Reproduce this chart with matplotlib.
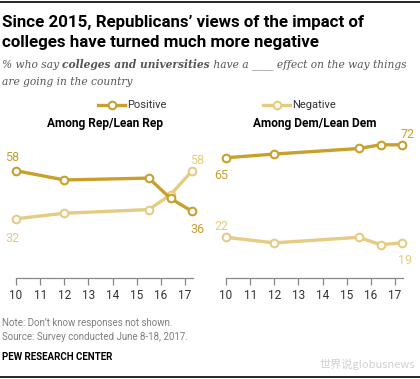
import matplotlib.pyplot as plt

W, H = 420, 379

# survey waves (year, 2-digit) and shares
waves = [10, 12, 15.5, 16.4, 17.3]
rep_positive = [58, 53, 54, 43, 36]
rep_negative = [32, 35, 37, 45, 58]
dem_positive = [65, 67, 70, 72, 72]
dem_negative = [22, 19, 22, 18, 19]
tick_years = [10, 11, 12, 13, 14, 15, 16, 17]

DARK = '#C9A02B'
LIGHT = '#E5CC82'
GRAY = '#7F7F7F'

plt.rcParams['font.family'] = ['Roboto', 'DejaVu Sans']

fig = plt.figure(figsize=(W / 100, H / 100), dpi=100)


def fx(x):
  return x / W


def fy(y):
  return 1 - y / H


# top / bottom rules
fig.add_artist(plt.Line2D([0, 1], [fy(1.5), fy(1.5)], color='black', lw=1.2))
fig.add_artist(plt.Line2D([0, 1], [fy(377), fy(377)], color='black', lw=1.2))

fig.text(fx(2), fy(22), "Since 2015, Republicans\u2019 views of the impact of",
         fontsize=12.2, fontweight='bold', va='center', ha='left')
fig.text(fx(2), fy(43), "colleges have turned much more negative",
         fontsize=12.2, fontweight='bold', va='center', ha='left')

# subtitle with a bold part, placed piece by piece
sub_kw = dict(family='DejaVu Serif', style='italic', fontsize=7.7, color='#555555',
              va='center', ha='left')
fig.canvas.draw()
r = fig.canvas.get_renderer()
x = fx(2)
for txt, wt in [('% who say ', 'normal'), ('colleges and universities', 'bold'),
                (' have a ____ effect on the way things', 'normal')]:
  t = fig.text(x, fy(65), txt, fontweight=wt, **sub_kw)
  bb = t.get_window_extent(renderer=r)
  x += bb.width / W
fig.text(fx(2), fy(82), 'are going in the country', **sub_kw)

panels = [
  (16, 'Among Rep/Lean Rep', rep_positive, rep_negative),
  (226, 'Among Dem/Lean Dem', dem_positive, dem_negative),
]
axes = []
for left, title, pos, neg in panels:
  ax = fig.add_axes([fx(left), fy(278), 177 / W, 148 / H])
  ax.set_xlim(10, 17.33)
  ax.set_ylim(0, 80)
  for s in ['top', 'right', 'left']:
    ax.spines[s].set_visible(False)
  ax.spines['bottom'].set_color('#888888')
  ax.spines['bottom'].set_linewidth(0.9)
  ax.set_yticks([])
  ax.set_xticks(tick_years)
  ax.tick_params(axis='x', length=5, width=0.9, color='#888888', labelsize=8.5,
                 labelcolor='#333333', pad=3)
  ax.plot(waves, neg, color=LIGHT, lw=2.4, marker='o', ms=5.5, mfc='white',
          mec=LIGHT, mew=1.5, clip_on=False, zorder=3)
  ax.plot(waves, pos, color=DARK, lw=2.4, marker='o', ms=5.5, mfc='white',
          mec=DARK, mew=1.5, clip_on=False, zorder=4)
  fig.text(fx(left + 89), fy(123), title, fontsize=8.6, fontweight='bold',
           ha='center', va='center')
  axes.append(ax)

lab_kw = dict(fontsize=9, ha='center', va='center')
ax_r, ax_d = axes
ax_r.annotate(str(rep_positive[0]), (waves[0], rep_positive[0]), xytext=(-4, 13),
              textcoords='offset pixels', color=DARK, **lab_kw)
ax_r.annotate(str(rep_negative[0]), (waves[0], rep_negative[0]), xytext=(-4, -20),
              textcoords='offset pixels', color=LIGHT, **lab_kw)
ax_r.annotate(str(rep_negative[-1]), (waves[-1], rep_negative[-1]), xytext=(5, 10),
              textcoords='offset pixels', color=LIGHT, **lab_kw)
ax_r.annotate(str(rep_positive[-1]), (waves[-1], rep_positive[-1]), xytext=(5, -18),
              textcoords='offset pixels', color=DARK, **lab_kw)
ax_d.annotate(str(dem_positive[0]), (waves[0], dem_positive[0]), xytext=(-5, -18),
              textcoords='offset pixels', color=DARK, **lab_kw)
ax_d.annotate(str(dem_positive[-1]), (waves[-1], dem_positive[-1]), xytext=(5, 10),
              textcoords='offset pixels', color=DARK, **lab_kw)
ax_d.annotate(str(dem_negative[0]), (waves[0], dem_negative[0]), xytext=(-5, 11),
              textcoords='offset pixels', color=LIGHT, **lab_kw)
ax_d.annotate(str(dem_negative[-1]), (waves[-1], dem_negative[-1]), xytext=(3, -18),
              textcoords='offset pixels', color=LIGHT, **lab_kw)

# legends
for (x0, x1), col, name in [((98, 125), DARK, 'Positive'), ((263, 290), LIGHT, 'Negative')]:
  fig.add_artist(plt.Line2D([fx(x0), fx(x1)], [fy(105), fy(105)], color=col, lw=2.4))
  fig.add_artist(plt.Line2D([fx((x0 + x1) / 2)], [fy(105)], marker='o', ms=5.5,
                            mfc='white', mec=col, mew=1.5))
  fig.text(fx(x1 + 2), fy(105), name, fontsize=8, ha='left', va='center', color='#333333')

fig.text(fx(2), fy(323), "Note: Don\u2019t know responses not shown.", fontsize=7,
         color=GRAY, va='center')
fig.text(fx(2), fy(337), "Source: Survey conducted June 8-18, 2017.", fontsize=7,
         color=GRAY, va='center')
fig.text(fx(2), fy(357), "PEW RESEARCH CENTER", fontsize=7, fontweight='bold',
         color='black', va='center')
fig.text(fx(415), fy(364), "\u4e16\u754c\u8bf4globusnews", fontsize=8, color='#D0D0D0',
         ha='right', va='center', family=['Noto Sans CJK SC', 'DejaVu Sans'])

fig.savefig('out.png', dpi=100)
